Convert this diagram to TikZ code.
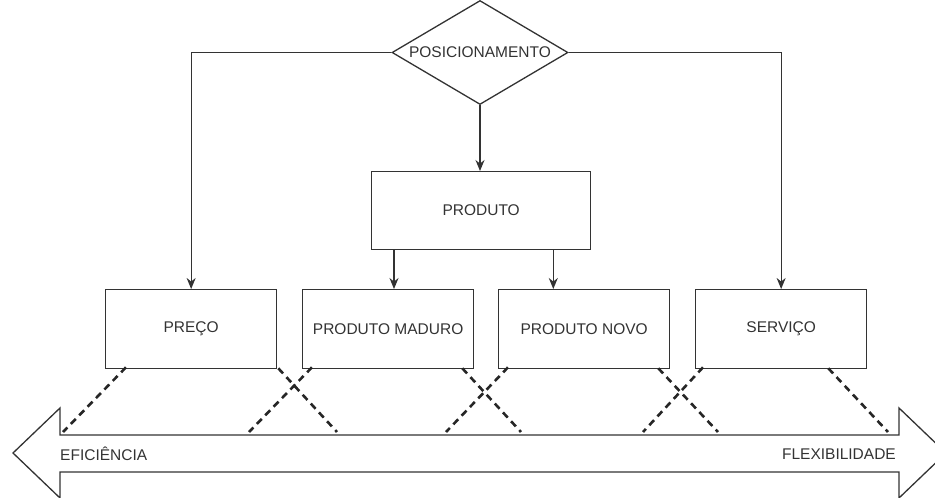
\documentclass[tikz,border=0pt]{standalone}
\usepackage{fontspec}
\setmainfont{Liberation Sans}
\usetikzlibrary{shapes.geometric,arrows.meta,calc}
\definecolor{ln}{HTML}{333333}
\definecolor{tx}{HTML}{333333}
\tikzset{
  box/.style={draw=ln, line width=1.3pt, fill=white, minimum width=171pt, minimum height=79pt, inner sep=0pt, anchor=north west, font=\fontsize{15.5pt}{18pt}\selectfont, text=tx},
  arr/.style={draw=ln, line width=1.3pt, -{Stealth[length=11pt,width=9pt]}},
  dsh/.style={draw=black!85, line width=2.6pt, dash pattern=on 7pt off 5pt},
  lbl/.style={font=\fontsize{15.5pt}{18pt}\selectfont, text=tx, inner sep=0pt}
}
\begin{document}
\begin{tikzpicture}[x=1pt,y=-1pt]
\useasboundingbox (0,0) rectangle (935,498);
% big double arrow
\draw[ln, line width=1.3pt, fill=white] (13,453) -- (60,408) -- (60,435) -- (899,435) -- (899,408) -- (946,453) -- (899,498) -- (899,472) -- (60,472) -- (60,498) -- cycle;
\node[lbl, anchor=west] (efi) at (60,454) {EFICIÊNCIA};
\node[lbl, anchor=east] (flex) at (896,454) {FLEXIBILIDADE};
% diamond
\node[diamond, draw=ln, line width=1.3pt, fill=white, inner sep=0pt, shape aspect=1.676, minimum width=176pt, minimum height=104pt, font=\fontsize{15.5pt}{18pt}\selectfont, text=tx] (pos) at (480,52.5) {POSICIONAMENTO};
% boxes
\node[box, minimum width=219pt, minimum height=78pt] (prod) at (371,171) {PRODUTO};
\node[box] (preco) at (105,289) {PREÇO};
\node[box] (madur) at (302,289) {PRODUTO MADURO};
\node[box] (novo) at (498,289) {PRODUTO NOVO};
\node[box] (serv) at (695,289) {SERVIÇO};
% arrows
\draw[arr] (pos.west) -| (preco.north);
\draw[arr] (pos.east) -| (serv.north);
\draw[arr] (pos.south) -- (pos.south |- prod.north);
\coordinate (p1) at ([xshift=23pt]prod.south west);
\coordinate (p2) at ([xshift=-38pt]prod.south east);
\draw[arr] (p1) -- (p1 |- madur.north);
\draw[arr] (p2) -- (p2 |- novo.north);
% dashed lines
\coordinate (e1) at (63,432);
\coordinate (e2) at (337,432);
\coordinate (e3) at (249,432);
\coordinate (e4) at (521,432);
\coordinate (e5) at (446,432);
\coordinate (e6) at (718,432);
\coordinate (e7) at (643,432);
\coordinate (e8) at (888,432);
\draw[dsh] ([xshift=21pt,yshift=2pt]preco.south west) -- (e1);
\draw[dsh] ([xshift=1pt,yshift=1pt]preco.south east) -- (e2);
\draw[dsh] ([xshift=10pt,yshift=2pt]madur.south west) -- (e3);
\draw[dsh] ([xshift=-12pt,yshift=1pt]madur.south east) -- (e4);
\draw[dsh] ([xshift=10pt,yshift=2pt]novo.south west) -- (e5);
\draw[dsh] ([xshift=-12pt,yshift=1pt]novo.south east) -- (e6);
\draw[dsh] ([xshift=8pt,yshift=2pt]serv.south west) -- (e7);
\draw[dsh] ([xshift=-39pt,yshift=1pt]serv.south east) -- (e8);
\end{tikzpicture}
\end{document}
